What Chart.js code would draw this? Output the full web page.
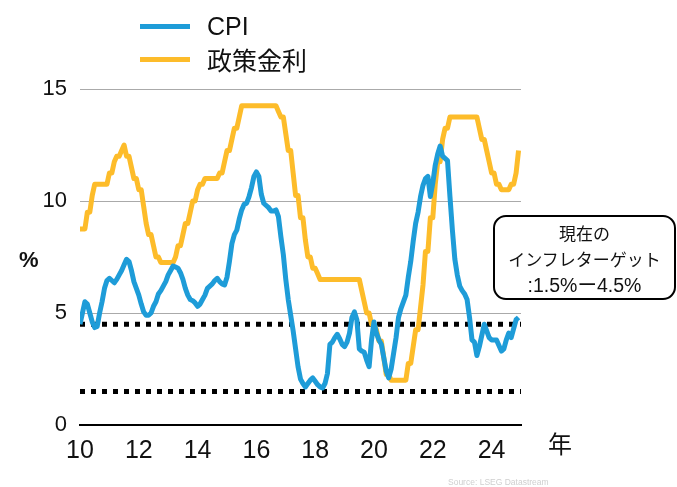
<!DOCTYPE html>
<html lang="ja">
<head>
<meta charset="utf-8">
<script src="https://cdn.jsdelivr.net/npm/chart.js@4/dist/chart.umd.min.js"></script>
<style>
    html, body {
        margin: 0;
        padding: 0;
        background: #ffffff;
    }
    #wrap {
        position: relative;
        width: 677px;
        height: 487px;
        font-family: "Liberation Sans", Arial, "Noto Sans CJK JP", sans-serif;
    }
    #chart {
        position: absolute;
        left: 0;
        top: 0;
    }
    .legend-row {
        position: absolute;
        left: 140px;
        height: 30px;
        display: flex;
        align-items: center;
        font-size: 25px;
        color: #111;
    }
    .legend-row .swatch {
        width: 50px;
        height: 5px;
        margin-right: 17px;
    }
    .legend-row .jp {
        font-family: "Noto Sans CJK JP", sans-serif;
    }
    #unit {
        position: absolute;
        left: 19px;
        top: 247px;
        font-size: 22px;
        font-weight: bold;
        color: #111;
    }
    #year {
        position: absolute;
        left: 548px;
        top: 425px;
        font-size: 24px;
        font-family: "Noto Sans CJK JP", sans-serif;
        color: #111;
    }
    #note {
        position: absolute;
        left: 493px;
        top: 215px;
        width: 179px;
        height: 78px;
        border: 2.5px solid #000;
        border-radius: 13px;
        background: #fff;
        font-family: "Noto Sans CJK JP", sans-serif;
        font-size: 17px;
        line-height: 26px;
        text-align: center;
        color: #111;
        padding-top: 3px;
        box-sizing: content-box;
    }
    #note .num {
        font-family: "Liberation Sans", Arial, "Noto Sans CJK JP", sans-serif;
        font-size: 19.5px;
    }
    #source {
        position: absolute;
        left: 448px;
        top: 477px;
        font-size: 8.5px;
        color: #cfcfcf;
    }
</style>
</head>
<body>
<div id="wrap">
    <canvas id="chart" width="677" height="487"></canvas>
    <div id="legend"></div>
    <div id="unit">%</div>
    <div id="year">年</div>
    <div id="note"></div>
    <div id="source">Source: LSEG Datastream</div>
</div>
<script>
// Monthly series, Jan 2010 .. Dec 2024
const START_YEAR = 2010;

const SERIES_LABELS = ["CPI", "政策金利"];

const CPI = [
    4.5, 5.0, 5.5, 5.4, 5.0, 4.6, 4.35, 4.4, 5.0, 5.5, 6.1, 6.45,
    6.55, 6.45, 6.35, 6.5, 6.7, 6.9, 7.15, 7.4, 7.3, 6.9, 6.4, 6.1,
    5.8, 5.4, 5.05, 4.9, 4.9, 5.0, 5.3, 5.5, 5.85, 6.0, 6.2, 6.4,
    6.7, 6.9, 7.1, 7.05, 7.0, 6.8, 6.5, 6.1, 5.8, 5.6, 5.55, 5.45,
    5.3, 5.4, 5.6, 5.8, 6.1, 6.2, 6.3, 6.45, 6.55, 6.4, 6.3, 6.25,
    6.6, 7.3, 8.1, 8.5, 8.7, 9.2, 9.6, 9.85, 9.9, 10.2, 10.6, 11.1,
    11.3, 11.1, 10.3, 9.9, 9.8, 9.7, 9.55, 9.55, 9.6, 9.3, 8.4, 7.6,
    6.5, 5.6, 4.9, 4.2, 3.4, 2.6, 2.05, 1.85, 1.7, 1.85, 2.0, 2.1,
    1.95, 1.8, 1.7, 1.65, 1.85, 2.3, 3.6, 3.7, 3.9, 4.05, 3.85, 3.6,
    3.5, 3.7, 4.1, 4.8, 5.05, 4.7, 3.4, 3.3, 3.25, 2.9, 2.6, 3.8,
    4.6, 4.1, 3.8, 3.6, 3.0, 2.4, 2.1, 2.5, 3.2, 3.9, 4.8, 5.2,
    5.5, 5.8, 6.6, 7.3, 8.2, 9.0, 9.5, 10.2, 10.7, 11.0, 11.1, 10.2,
    10.8, 11.6, 12.1, 12.45, 12.0, 11.9, 11.8, 10.2, 8.7, 7.4, 6.7, 6.2,
    6.0, 5.85, 5.6, 4.8, 3.8, 3.7, 3.1, 3.5, 4.0, 4.5, 4.2, 3.9,
    3.8, 3.8, 3.8, 3.55, 3.3, 3.4, 3.8, 4.1, 3.9, 4.3, 4.7, 4.8
];

const POLICY_RATE = [
    8.75, 8.75, 8.75, 9.5, 9.5, 10.25, 10.75, 10.75, 10.75, 10.75, 10.75, 10.75,
    11.25, 11.25, 11.75, 12.0, 12.0, 12.25, 12.5, 12.0, 12.0, 11.5, 11.0, 11.0,
    10.5, 10.5, 9.75, 9.0, 8.5, 8.5, 8.0, 7.5, 7.5, 7.25, 7.25, 7.25,
    7.25, 7.25, 7.25, 7.5, 8.0, 8.0, 8.5, 9.0, 9.0, 9.5, 10.0, 10.0,
    10.5, 10.75, 10.75, 11.0, 11.0, 11.0, 11.0, 11.0, 11.0, 11.25, 11.25, 11.75,
    12.25, 12.25, 12.75, 13.25, 13.25, 13.75, 14.25, 14.25, 14.25, 14.25, 14.25, 14.25,
    14.25, 14.25, 14.25, 14.25, 14.25, 14.25, 14.25, 14.25, 14.25, 14.0, 13.75, 13.75,
    13.0, 12.25, 12.25, 11.25, 10.25, 10.25, 9.25, 9.25, 8.25, 7.5, 7.5, 7.0,
    7.0, 6.75, 6.5, 6.5, 6.5, 6.5, 6.5, 6.5, 6.5, 6.5, 6.5, 6.5,
    6.5, 6.5, 6.5, 6.5, 6.5, 6.5, 6.5, 6.0, 5.5, 5.0, 5.0, 4.5,
    4.5, 4.25, 3.75, 3.75, 3.0, 2.25, 2.25, 2.0, 2.0, 2.0, 2.0, 2.0,
    2.0, 2.0, 2.75, 2.75, 3.5, 4.25, 4.25, 5.25, 6.25, 7.75, 7.75, 9.25,
    9.25, 10.75, 11.75, 11.75, 12.75, 13.25, 13.25, 13.75, 13.75, 13.75, 13.75, 13.75,
    13.75, 13.75, 13.75, 13.75, 13.75, 13.75, 13.75, 13.25, 12.75, 12.75, 12.25, 11.75,
    11.25, 11.25, 10.75, 10.75, 10.5, 10.5, 10.5, 10.5, 10.75, 10.75, 11.25, 12.25
];

// Inflation target band (dotted lines)
const TARGET_BAND = [1.5, 4.5];

const X_TICKS = [2010, 2012, 2014, 2016, 2018, 2020, 2022, 2024];
const Y_TICKS = [0, 5, 10, 15];

const NOTE_LINES = ["現在の", "インフレターゲット", ":1.5%ー4.5%"];

const BLUE = "#1e9cd8";
const YELLOW = "#fdbc2a";

// Build {x, y} points
function toPoints(values) {
    return values.map((v, i) => ({ x: START_YEAR + i / 12, y: v }));
}

function bandLine(level) {
    return [
        { x: X_TICKS[0], y: level },
        { x: X_TICKS[X_TICKS.length - 1] + 1, y: level }
    ];
}

// Legend (HTML)
const legend = document.getElementById("legend");
[BLUE, YELLOW].forEach((color, i) => {
    const row = document.createElement("div");
    row.className = "legend-row";
    row.style.top = (11 + i * 33) + "px";
    row.innerHTML = `<span class="swatch" style="background:${color}"></span>` +
        `<span class="${i === 1 ? "jp" : ""}">${SERIES_LABELS[i]}</span>`;
    legend.appendChild(row);
});

// Note box: last line uses a latin font for the numbers
document.getElementById("note").innerHTML =
    NOTE_LINES.slice(0, 2).join("<br>") +
    `<br><span class="num">${NOTE_LINES[2]}</span>`;

const bandDatasets = TARGET_BAND.map(level => ({
    label: "target " + level,
    data: bandLine(level),
    borderColor: "#000",
    borderWidth: 5,
    borderDash: [5, 6],
    borderCapStyle: "butt",
    pointRadius: 0,
    order: 3
}));

new Chart(document.getElementById("chart"), {
    type: "line",
    data: {
        datasets: [
            ...bandDatasets,
            {
                label: SERIES_LABELS[1],
                data: toPoints(POLICY_RATE),
                borderColor: YELLOW,
                borderWidth: 5,
                pointRadius: 0,
                tension: 0,
                borderJoinStyle: "round",
                order: 2
            },
            {
                label: SERIES_LABELS[0],
                data: toPoints(CPI),
                borderColor: BLUE,
                borderWidth: 5,
                pointRadius: 0,
                tension: 0,
                borderJoinStyle: "round",
                order: 1
            }
        ]
    },
    options: {
        responsive: false,
        animation: false,
        layout: {
            padding: { top: 89, right: 156, left: 0, bottom: 0 }
        },
        plugins: {
            legend: { display: false },
            tooltip: { enabled: false }
        },
        scales: {
            x: {
                type: "linear",
                min: X_TICKS[0],
                max: X_TICKS[X_TICKS.length - 1] + 1,
                afterFit: scale => { scale.height = 62; },
                afterBuildTicks: scale => {
                    scale.ticks = X_TICKS.map(v => ({ value: v }));
                },
                grid: { display: false },
                border: { display: true, color: "#000", width: 2 },
                ticks: {
                    padding: 3,
                    color: "#111",
                    font: { family: "'Liberation Sans Narrow', 'Liberation Sans', Arial", size: 25 },
                    callback: v => String(v % 100).padStart(2, "0")
                }
            },
            y: {
                min: Y_TICKS[0],
                max: Y_TICKS[Y_TICKS.length - 1],
                afterFit: scale => { scale.width = 80; },
                afterBuildTicks: scale => {
                    scale.ticks = Y_TICKS.map(v => ({ value: v }));
                },
                grid: {
                    color: ctx => (ctx.tick && ctx.tick.value === 0 ? "rgba(0,0,0,0)" : "#aaaaaa"),
                    lineWidth: 1,
                    drawTicks: false
                },
                border: { display: false },
                ticks: {
                    padding: 13,
                    color: "#111",
                    font: { family: "'Liberation Sans', Arial", size: 22 }
                }
            }
        }
    }
});
</script>
</body>
</html>
